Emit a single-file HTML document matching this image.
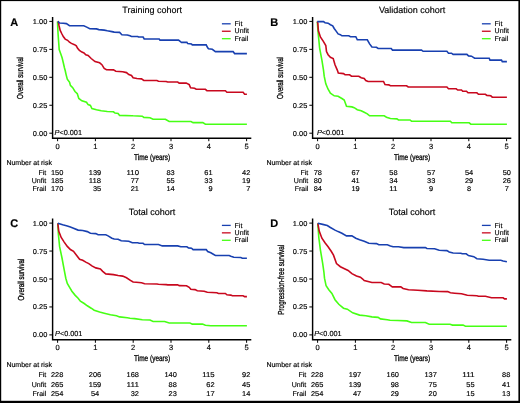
<!DOCTYPE html>
<html><head><meta charset="utf-8"><style>
html,body{margin:0;padding:0;background:#fff;}
svg{display:block;will-change:transform;}
text{font-family:"Liberation Sans", sans-serif;fill:#000;text-rendering:geometricPrecision;}
</style></head><body>
<svg width="520" height="403" viewBox="0 0 520 403">
<rect x="0" y="0" width="520" height="403" fill="#fff"/>
<g>
<text x="10.30" y="25.60" font-size="11" font-weight="bold" stroke="#000" stroke-width="0.15">A</text>
<text x="152.10" y="13.10" font-size="9" text-anchor="middle" stroke="#000" stroke-width="0.15">Training cohort</text>
<g transform="translate(22.60,78.00) rotate(-90)"><text x="0.00" y="0.00" font-size="8.7" text-anchor="middle" textLength="41.80" lengthAdjust="spacingAndGlyphs" stroke="#000" stroke-width="0.3">Overall survival</text></g>
<line x1="49.3" y1="133.20" x2="52.6" y2="133.20" stroke="#000" stroke-width="1"/>
<text x="47.30" y="135.70" font-size="7" text-anchor="end" textLength="14.44" lengthAdjust="spacingAndGlyphs" stroke="#000" stroke-width="0.15">0.00</text>
<line x1="49.3" y1="105.25" x2="52.6" y2="105.25" stroke="#000" stroke-width="1"/>
<text x="47.30" y="107.75" font-size="7" text-anchor="end" textLength="14.44" lengthAdjust="spacingAndGlyphs" stroke="#000" stroke-width="0.15">0.25</text>
<line x1="49.3" y1="77.30" x2="52.6" y2="77.30" stroke="#000" stroke-width="1"/>
<text x="47.30" y="79.80" font-size="7" text-anchor="end" textLength="14.44" lengthAdjust="spacingAndGlyphs" stroke="#000" stroke-width="0.15">0.50</text>
<line x1="49.3" y1="49.35" x2="52.6" y2="49.35" stroke="#000" stroke-width="1"/>
<text x="47.30" y="51.85" font-size="7" text-anchor="end" textLength="14.44" lengthAdjust="spacingAndGlyphs" stroke="#000" stroke-width="0.15">0.75</text>
<line x1="49.3" y1="21.40" x2="52.6" y2="21.40" stroke="#000" stroke-width="1"/>
<text x="47.30" y="23.90" font-size="7" text-anchor="end" textLength="14.44" lengthAdjust="spacingAndGlyphs" stroke="#000" stroke-width="0.15">1.00</text>
<path d="M52.6,16.9 V138.2 H251.3" fill="none" stroke="#000" stroke-width="1.45"/>
<line x1="57.60" y1="138.2" x2="57.60" y2="141.2" stroke="#000" stroke-width="1"/>
<text x="57.60" y="148.80" font-size="7.5" text-anchor="middle" stroke="#000" stroke-width="0.15">0</text>
<line x1="95.40" y1="138.2" x2="95.40" y2="141.2" stroke="#000" stroke-width="1"/>
<text x="95.40" y="148.80" font-size="7.5" text-anchor="middle" stroke="#000" stroke-width="0.15">1</text>
<line x1="133.20" y1="138.2" x2="133.20" y2="141.2" stroke="#000" stroke-width="1"/>
<text x="133.20" y="148.80" font-size="7.5" text-anchor="middle" stroke="#000" stroke-width="0.15">2</text>
<line x1="171.00" y1="138.2" x2="171.00" y2="141.2" stroke="#000" stroke-width="1"/>
<text x="171.00" y="148.80" font-size="7.5" text-anchor="middle" stroke="#000" stroke-width="0.15">3</text>
<line x1="208.80" y1="138.2" x2="208.80" y2="141.2" stroke="#000" stroke-width="1"/>
<text x="208.80" y="148.80" font-size="7.5" text-anchor="middle" stroke="#000" stroke-width="0.15">4</text>
<line x1="246.60" y1="138.2" x2="246.60" y2="141.2" stroke="#000" stroke-width="1"/>
<text x="246.60" y="148.80" font-size="7.5" text-anchor="middle" stroke="#000" stroke-width="0.15">5</text>
<text x="152.10" y="159.80" font-size="8.3" text-anchor="middle" textLength="36.00" lengthAdjust="spacingAndGlyphs" stroke="#000" stroke-width="0.3">Time (years)</text>
<text x="54.60" y="134.80" font-size="7.3" stroke="#000" stroke-width="0.15"><tspan font-style="italic">P</tspan>&lt;0.001</text>
<line x1="221.9" y1="23.80" x2="230.7" y2="23.80" stroke="#1840b0" stroke-width="1.3"/>
<text x="234.60" y="25.90" font-size="7" stroke="#000" stroke-width="0.15">Fit</text>
<line x1="221.9" y1="31.25" x2="230.7" y2="31.25" stroke="#c8081e" stroke-width="1.3"/>
<text x="234.60" y="33.35" font-size="7" stroke="#000" stroke-width="0.15">Unfit</text>
<line x1="221.9" y1="38.70" x2="230.7" y2="38.70" stroke="#46ff14" stroke-width="1.3"/>
<text x="234.60" y="40.80" font-size="7" stroke="#000" stroke-width="0.15">Frail</text>
<text x="6.40" y="165.40" font-size="7" stroke="#000" stroke-width="0.15">Number at risk</text>
<text x="63.39" y="174.70" font-size="7" text-anchor="end" textLength="12.38" lengthAdjust="spacingAndGlyphs" stroke="#000" stroke-width="0.15">150</text>
<text x="63.39" y="183.00" font-size="7" text-anchor="end" textLength="12.38" lengthAdjust="spacingAndGlyphs" stroke="#000" stroke-width="0.15">185</text>
<text x="63.39" y="191.40" font-size="7" text-anchor="end" textLength="12.38" lengthAdjust="spacingAndGlyphs" stroke="#000" stroke-width="0.15">170</text>
<text x="101.19" y="174.70" font-size="7" text-anchor="end" textLength="12.38" lengthAdjust="spacingAndGlyphs" stroke="#000" stroke-width="0.15">139</text>
<text x="101.19" y="183.00" font-size="7" text-anchor="end" textLength="12.38" lengthAdjust="spacingAndGlyphs" stroke="#000" stroke-width="0.15">118</text>
<text x="101.19" y="191.40" font-size="7" text-anchor="end" textLength="8.25" lengthAdjust="spacingAndGlyphs" stroke="#000" stroke-width="0.15">35</text>
<text x="138.99" y="174.70" font-size="7" text-anchor="end" textLength="12.38" lengthAdjust="spacingAndGlyphs" stroke="#000" stroke-width="0.15">110</text>
<text x="138.99" y="183.00" font-size="7" text-anchor="end" textLength="8.25" lengthAdjust="spacingAndGlyphs" stroke="#000" stroke-width="0.15">77</text>
<text x="138.99" y="191.40" font-size="7" text-anchor="end" textLength="8.25" lengthAdjust="spacingAndGlyphs" stroke="#000" stroke-width="0.15">21</text>
<text x="174.73" y="174.70" font-size="7" text-anchor="end" textLength="8.25" lengthAdjust="spacingAndGlyphs" stroke="#000" stroke-width="0.15">83</text>
<text x="174.73" y="183.00" font-size="7" text-anchor="end" textLength="8.25" lengthAdjust="spacingAndGlyphs" stroke="#000" stroke-width="0.15">55</text>
<text x="174.73" y="191.40" font-size="7" text-anchor="end" textLength="8.25" lengthAdjust="spacingAndGlyphs" stroke="#000" stroke-width="0.15">14</text>
<text x="212.53" y="174.70" font-size="7" text-anchor="end" textLength="8.25" lengthAdjust="spacingAndGlyphs" stroke="#000" stroke-width="0.15">61</text>
<text x="212.53" y="183.00" font-size="7" text-anchor="end" textLength="8.25" lengthAdjust="spacingAndGlyphs" stroke="#000" stroke-width="0.15">33</text>
<text x="212.53" y="191.40" font-size="7" text-anchor="end" textLength="4.13" lengthAdjust="spacingAndGlyphs" stroke="#000" stroke-width="0.15">9</text>
<text x="250.33" y="174.70" font-size="7" text-anchor="end" textLength="8.25" lengthAdjust="spacingAndGlyphs" stroke="#000" stroke-width="0.15">42</text>
<text x="250.33" y="183.00" font-size="7" text-anchor="end" textLength="8.25" lengthAdjust="spacingAndGlyphs" stroke="#000" stroke-width="0.15">19</text>
<text x="250.33" y="191.40" font-size="7" text-anchor="end" textLength="4.13" lengthAdjust="spacingAndGlyphs" stroke="#000" stroke-width="0.15">7</text>
<text x="46.21" y="174.70" font-size="7" text-anchor="end" stroke="#000" stroke-width="0.15">Fit</text>
<text x="46.21" y="183.00" font-size="7" text-anchor="end" stroke="#000" stroke-width="0.15">Unfit</text>
<text x="46.21" y="191.40" font-size="7" text-anchor="end" stroke="#000" stroke-width="0.15">Frail</text>
<polyline points="57.5,21.5 58.0,32.9 58.7,42.8 59.2,49.6 60.8,54.0 62.1,57.7 63.3,62.7 64.5,68.0 65.2,70.5 66.1,74.6 67.3,79.2 69.6,82.3 70.4,85.4 72.7,87.7 75.0,91.5 77.3,93.8 78.8,98.5 81.9,100.8 86.5,102.3 88.1,104.6 90.4,105.4 91.9,108.5 96.5,109.7 101.2,110.8 107.3,111.5 113.5,111.8 115.0,113.1 118.1,113.4 119.6,115.4 131.9,115.7 133.1,115.8 142.3,116.2 143.8,117.4 150.0,117.7 153.1,119.2 165.4,119.2 169.2,121.5 191.0,121.5 193.1,122.6 202.8,122.6 205.4,124.2 246.9,124.2" fill="none" stroke="#46ff14" stroke-width="1.6" stroke-linejoin="miter"/>
<polyline points="57.8,21.4 58.3,21.7 59.0,25.4 60.2,30.4 61.7,33.5 63.3,36.6 65.2,39.1 67.6,40.3 69.5,42.2 71.4,43.4 74.5,44.7 76.3,45.9 77.6,48.4 79.4,50.3 81.9,52.1 84.0,52.9 85.8,54.7 88.1,55.5 91.2,58.5 95.0,61.6 99.6,62.8 101.9,64.7 104.2,68.5 106.5,69.8 113.5,69.9 115.8,71.3 122.7,71.7 126.5,72.6 128.8,74.6 131.5,75.5 133.1,77.7 136.9,78.5 141.5,78.9 143.8,80.5 156.9,80.5 158.5,81.2 166.2,81.5 167.7,82.0 177.7,82.0 179.2,83.1 186.2,83.1 189.2,84.6 190.6,87.8 194.6,88.3 196.2,89.3 205.4,89.3 206.9,90.6 225.4,90.8 226.9,92.3 243.1,92.3 244.6,94.2 246.9,94.2" fill="none" stroke="#c8081e" stroke-width="1.6" stroke-linejoin="miter"/>
<polyline points="57.8,21.4 59.6,23.0 63.3,23.2 66.4,23.6 69.5,25.6 83.8,25.8 86.7,27.1 89.8,28.7 96.5,28.9 98.8,29.6 104.2,30.1 107.3,30.8 111.9,31.6 114.2,32.1 119.6,32.4 121.9,34.7 127.3,35.0 130.0,35.8 131.5,36.5 137.7,36.5 138.5,37.0 143.1,37.0 144.2,39.0 159.2,39.0 160.0,40.1 178.5,40.1 180.8,41.9 181.5,42.4 186.9,42.4 187.7,43.6 191.5,43.9 192.3,44.9 206.2,44.9 207.7,47.8 208.5,48.8 212.3,49.3 215.4,51.6 233.1,51.6 234.6,53.6 246.9,53.6" fill="none" stroke="#1840b0" stroke-width="1.6" stroke-linejoin="miter"/>
</g>
<g>
<text x="270.30" y="25.60" font-size="11" font-weight="bold" stroke="#000" stroke-width="0.15">B</text>
<text x="412.10" y="13.10" font-size="9" text-anchor="middle" stroke="#000" stroke-width="0.15">Validation cohort</text>
<g transform="translate(282.60,78.00) rotate(-90)"><text x="0.00" y="0.00" font-size="8.7" text-anchor="middle" textLength="41.80" lengthAdjust="spacingAndGlyphs" stroke="#000" stroke-width="0.3">Overall survival</text></g>
<line x1="309.3" y1="133.20" x2="312.6" y2="133.20" stroke="#000" stroke-width="1"/>
<text x="307.30" y="135.70" font-size="7" text-anchor="end" textLength="14.44" lengthAdjust="spacingAndGlyphs" stroke="#000" stroke-width="0.15">0.00</text>
<line x1="309.3" y1="105.25" x2="312.6" y2="105.25" stroke="#000" stroke-width="1"/>
<text x="307.30" y="107.75" font-size="7" text-anchor="end" textLength="14.44" lengthAdjust="spacingAndGlyphs" stroke="#000" stroke-width="0.15">0.25</text>
<line x1="309.3" y1="77.30" x2="312.6" y2="77.30" stroke="#000" stroke-width="1"/>
<text x="307.30" y="79.80" font-size="7" text-anchor="end" textLength="14.44" lengthAdjust="spacingAndGlyphs" stroke="#000" stroke-width="0.15">0.50</text>
<line x1="309.3" y1="49.35" x2="312.6" y2="49.35" stroke="#000" stroke-width="1"/>
<text x="307.30" y="51.85" font-size="7" text-anchor="end" textLength="14.44" lengthAdjust="spacingAndGlyphs" stroke="#000" stroke-width="0.15">0.75</text>
<line x1="309.3" y1="21.40" x2="312.6" y2="21.40" stroke="#000" stroke-width="1"/>
<text x="307.30" y="23.90" font-size="7" text-anchor="end" textLength="14.44" lengthAdjust="spacingAndGlyphs" stroke="#000" stroke-width="0.15">1.00</text>
<path d="M312.6,16.9 V138.2 H511.3" fill="none" stroke="#000" stroke-width="1.45"/>
<line x1="317.60" y1="138.2" x2="317.60" y2="141.2" stroke="#000" stroke-width="1"/>
<text x="317.60" y="148.80" font-size="7.5" text-anchor="middle" stroke="#000" stroke-width="0.15">0</text>
<line x1="355.40" y1="138.2" x2="355.40" y2="141.2" stroke="#000" stroke-width="1"/>
<text x="355.40" y="148.80" font-size="7.5" text-anchor="middle" stroke="#000" stroke-width="0.15">1</text>
<line x1="393.20" y1="138.2" x2="393.20" y2="141.2" stroke="#000" stroke-width="1"/>
<text x="393.20" y="148.80" font-size="7.5" text-anchor="middle" stroke="#000" stroke-width="0.15">2</text>
<line x1="431.00" y1="138.2" x2="431.00" y2="141.2" stroke="#000" stroke-width="1"/>
<text x="431.00" y="148.80" font-size="7.5" text-anchor="middle" stroke="#000" stroke-width="0.15">3</text>
<line x1="468.80" y1="138.2" x2="468.80" y2="141.2" stroke="#000" stroke-width="1"/>
<text x="468.80" y="148.80" font-size="7.5" text-anchor="middle" stroke="#000" stroke-width="0.15">4</text>
<line x1="506.60" y1="138.2" x2="506.60" y2="141.2" stroke="#000" stroke-width="1"/>
<text x="506.60" y="148.80" font-size="7.5" text-anchor="middle" stroke="#000" stroke-width="0.15">5</text>
<text x="412.10" y="159.80" font-size="8.3" text-anchor="middle" textLength="36.00" lengthAdjust="spacingAndGlyphs" stroke="#000" stroke-width="0.3">Time (years)</text>
<text x="316.90" y="134.50" font-size="7.3" stroke="#000" stroke-width="0.15"><tspan font-style="italic">P</tspan>&lt;0.001</text>
<line x1="481.9" y1="23.80" x2="490.7" y2="23.80" stroke="#1840b0" stroke-width="1.3"/>
<text x="494.60" y="25.90" font-size="7" stroke="#000" stroke-width="0.15">Fit</text>
<line x1="481.9" y1="31.25" x2="490.7" y2="31.25" stroke="#c8081e" stroke-width="1.3"/>
<text x="494.60" y="33.35" font-size="7" stroke="#000" stroke-width="0.15">Unfit</text>
<line x1="481.9" y1="38.70" x2="490.7" y2="38.70" stroke="#46ff14" stroke-width="1.3"/>
<text x="494.60" y="40.80" font-size="7" stroke="#000" stroke-width="0.15">Frail</text>
<text x="266.40" y="165.40" font-size="7" stroke="#000" stroke-width="0.15">Number at risk</text>
<text x="317.80" y="174.70" font-size="7" text-anchor="middle" textLength="8.25" lengthAdjust="spacingAndGlyphs" stroke="#000" stroke-width="0.15">78</text>
<text x="317.80" y="183.00" font-size="7" text-anchor="middle" textLength="8.25" lengthAdjust="spacingAndGlyphs" stroke="#000" stroke-width="0.15">80</text>
<text x="317.80" y="191.40" font-size="7" text-anchor="middle" textLength="8.25" lengthAdjust="spacingAndGlyphs" stroke="#000" stroke-width="0.15">84</text>
<text x="355.60" y="174.70" font-size="7" text-anchor="middle" textLength="8.25" lengthAdjust="spacingAndGlyphs" stroke="#000" stroke-width="0.15">67</text>
<text x="355.60" y="183.00" font-size="7" text-anchor="middle" textLength="8.25" lengthAdjust="spacingAndGlyphs" stroke="#000" stroke-width="0.15">41</text>
<text x="355.60" y="191.40" font-size="7" text-anchor="middle" textLength="8.25" lengthAdjust="spacingAndGlyphs" stroke="#000" stroke-width="0.15">19</text>
<text x="393.40" y="174.70" font-size="7" text-anchor="middle" textLength="8.25" lengthAdjust="spacingAndGlyphs" stroke="#000" stroke-width="0.15">58</text>
<text x="393.40" y="183.00" font-size="7" text-anchor="middle" textLength="8.25" lengthAdjust="spacingAndGlyphs" stroke="#000" stroke-width="0.15">34</text>
<text x="393.40" y="191.40" font-size="7" text-anchor="middle" textLength="8.25" lengthAdjust="spacingAndGlyphs" stroke="#000" stroke-width="0.15">11</text>
<text x="431.20" y="174.70" font-size="7" text-anchor="middle" textLength="8.25" lengthAdjust="spacingAndGlyphs" stroke="#000" stroke-width="0.15">57</text>
<text x="431.20" y="183.00" font-size="7" text-anchor="middle" textLength="8.25" lengthAdjust="spacingAndGlyphs" stroke="#000" stroke-width="0.15">33</text>
<text x="431.20" y="191.40" font-size="7" text-anchor="middle" textLength="4.13" lengthAdjust="spacingAndGlyphs" stroke="#000" stroke-width="0.15">9</text>
<text x="469.00" y="174.70" font-size="7" text-anchor="middle" textLength="8.25" lengthAdjust="spacingAndGlyphs" stroke="#000" stroke-width="0.15">54</text>
<text x="469.00" y="183.00" font-size="7" text-anchor="middle" textLength="8.25" lengthAdjust="spacingAndGlyphs" stroke="#000" stroke-width="0.15">29</text>
<text x="469.00" y="191.40" font-size="7" text-anchor="middle" textLength="4.13" lengthAdjust="spacingAndGlyphs" stroke="#000" stroke-width="0.15">8</text>
<text x="506.80" y="174.70" font-size="7" text-anchor="middle" textLength="8.25" lengthAdjust="spacingAndGlyphs" stroke="#000" stroke-width="0.15">50</text>
<text x="506.80" y="183.00" font-size="7" text-anchor="middle" textLength="8.25" lengthAdjust="spacingAndGlyphs" stroke="#000" stroke-width="0.15">26</text>
<text x="506.80" y="191.40" font-size="7" text-anchor="middle" textLength="4.13" lengthAdjust="spacingAndGlyphs" stroke="#000" stroke-width="0.15">7</text>
<text x="308.27" y="174.70" font-size="7" text-anchor="end" stroke="#000" stroke-width="0.15">Fit</text>
<text x="308.27" y="183.00" font-size="7" text-anchor="end" stroke="#000" stroke-width="0.15">Unfit</text>
<text x="308.27" y="191.40" font-size="7" text-anchor="end" stroke="#000" stroke-width="0.15">Frail</text>
<polyline points="317.3,21.6 318.1,32.4 319.6,47.8 321.9,60.1 323.5,70.1 324.2,76.2 325.8,83.8 328.1,89.2 330.4,93.1 334.2,95.8 338.1,96.2 341.9,98.5 344.2,100.0 346.5,106.2 351.9,106.9 354.2,107.7 357.3,109.7 361.2,110.8 364.2,112.3 367.3,113.8 369.6,115.8 384.2,115.8 386.5,117.2 390.4,118.5 396.9,118.9 398.5,120.0 410.0,120.0 411.5,121.2 450.4,121.2 451.8,122.8 469.2,122.8 470.8,124.2 506.9,124.2" fill="none" stroke="#46ff14" stroke-width="1.6" stroke-linejoin="miter"/>
<polyline points="317.3,21.6 317.8,23.2 318.4,30.8 320.4,37.0 323.5,41.6 325.8,45.5 326.5,51.6 328.1,54.7 330.4,57.3 333.2,58.5 335.0,64.7 337.3,70.1 338.3,73.1 343.5,73.6 345.0,74.6 349.6,74.8 351.5,76.2 358.8,76.2 361.2,77.7 364.2,78.5 365.8,80.5 368.1,81.5 383.5,81.5 385.0,84.6 388.8,84.9 390.4,85.8 406.6,85.8 408.2,87.0 446.9,87.0 448.5,88.8 456.2,88.8 457.7,90.0 461.5,90.0 462.7,91.2 466.5,91.2 468.0,92.8 476.9,92.8 478.5,94.3 485.4,94.3 486.9,95.4 490.8,95.8 492.3,97.2 506.9,97.2" fill="none" stroke="#c8081e" stroke-width="1.6" stroke-linejoin="miter"/>
<polyline points="317.3,21.6 323.5,21.6 325.0,22.7 328.1,23.2 330.4,24.7 332.7,25.8 334.2,28.5 336.5,31.6 338.1,33.9 340.4,34.7 341.9,35.8 348.8,35.8 350.4,36.7 355.8,36.7 357.3,39.8 367.3,39.8 369.6,43.9 371.9,47.0 376.5,47.3 378.1,48.5 391.2,48.5 392.5,50.1 421.5,50.1 423.1,51.3 446.9,51.3 448.5,53.2 451.5,53.2 453.1,54.4 466.9,54.4 468.5,55.9 471.5,56.2 474.6,58.2 489.2,58.2 490.0,60.1 501.5,60.1 502.3,61.6 506.9,61.6" fill="none" stroke="#1840b0" stroke-width="1.6" stroke-linejoin="miter"/>
</g>
<g>
<text x="10.30" y="227.10" font-size="11" font-weight="bold" stroke="#000" stroke-width="0.15">C</text>
<text x="152.10" y="214.90" font-size="9" text-anchor="middle" stroke="#000" stroke-width="0.15">Total cohort</text>
<g transform="translate(23.60,279.60) rotate(-90)"><text x="0.00" y="0.00" font-size="8.7" text-anchor="middle" textLength="41.60" lengthAdjust="spacingAndGlyphs" stroke="#000" stroke-width="0.3">Overall survival</text></g>
<line x1="49.3" y1="334.90" x2="52.6" y2="334.90" stroke="#000" stroke-width="1"/>
<text x="47.30" y="337.40" font-size="7" text-anchor="end" textLength="14.44" lengthAdjust="spacingAndGlyphs" stroke="#000" stroke-width="0.15">0.00</text>
<line x1="49.3" y1="306.95" x2="52.6" y2="306.95" stroke="#000" stroke-width="1"/>
<text x="47.30" y="309.45" font-size="7" text-anchor="end" textLength="14.44" lengthAdjust="spacingAndGlyphs" stroke="#000" stroke-width="0.15">0.25</text>
<line x1="49.3" y1="279.00" x2="52.6" y2="279.00" stroke="#000" stroke-width="1"/>
<text x="47.30" y="281.50" font-size="7" text-anchor="end" textLength="14.44" lengthAdjust="spacingAndGlyphs" stroke="#000" stroke-width="0.15">0.50</text>
<line x1="49.3" y1="251.05" x2="52.6" y2="251.05" stroke="#000" stroke-width="1"/>
<text x="47.30" y="253.55" font-size="7" text-anchor="end" textLength="14.44" lengthAdjust="spacingAndGlyphs" stroke="#000" stroke-width="0.15">0.75</text>
<line x1="49.3" y1="223.10" x2="52.6" y2="223.10" stroke="#000" stroke-width="1"/>
<text x="47.30" y="225.60" font-size="7" text-anchor="end" textLength="14.44" lengthAdjust="spacingAndGlyphs" stroke="#000" stroke-width="0.15">1.00</text>
<path d="M52.6,218.6 V339.8 H251.3" fill="none" stroke="#000" stroke-width="1.45"/>
<line x1="57.60" y1="339.8" x2="57.60" y2="342.8" stroke="#000" stroke-width="1"/>
<text x="57.60" y="350.40" font-size="7.5" text-anchor="middle" stroke="#000" stroke-width="0.15">0</text>
<line x1="95.40" y1="339.8" x2="95.40" y2="342.8" stroke="#000" stroke-width="1"/>
<text x="95.40" y="350.40" font-size="7.5" text-anchor="middle" stroke="#000" stroke-width="0.15">1</text>
<line x1="133.20" y1="339.8" x2="133.20" y2="342.8" stroke="#000" stroke-width="1"/>
<text x="133.20" y="350.40" font-size="7.5" text-anchor="middle" stroke="#000" stroke-width="0.15">2</text>
<line x1="171.00" y1="339.8" x2="171.00" y2="342.8" stroke="#000" stroke-width="1"/>
<text x="171.00" y="350.40" font-size="7.5" text-anchor="middle" stroke="#000" stroke-width="0.15">3</text>
<line x1="208.80" y1="339.8" x2="208.80" y2="342.8" stroke="#000" stroke-width="1"/>
<text x="208.80" y="350.40" font-size="7.5" text-anchor="middle" stroke="#000" stroke-width="0.15">4</text>
<line x1="246.60" y1="339.8" x2="246.60" y2="342.8" stroke="#000" stroke-width="1"/>
<text x="246.60" y="350.40" font-size="7.5" text-anchor="middle" stroke="#000" stroke-width="0.15">5</text>
<text x="152.10" y="360.60" font-size="8.3" text-anchor="middle" textLength="36.00" lengthAdjust="spacingAndGlyphs" stroke="#000" stroke-width="0.3">Time (years)</text>
<text x="55.00" y="336.00" font-size="7.3" stroke="#000" stroke-width="0.15"><tspan font-style="italic">P</tspan>&lt;0.001</text>
<line x1="221.9" y1="225.40" x2="230.7" y2="225.40" stroke="#1840b0" stroke-width="1.3"/>
<text x="234.60" y="227.50" font-size="7" stroke="#000" stroke-width="0.15">Fit</text>
<line x1="221.9" y1="232.85" x2="230.7" y2="232.85" stroke="#c8081e" stroke-width="1.3"/>
<text x="234.60" y="234.95" font-size="7" stroke="#000" stroke-width="0.15">Unfit</text>
<line x1="221.9" y1="240.30" x2="230.7" y2="240.30" stroke="#46ff14" stroke-width="1.3"/>
<text x="234.60" y="242.40" font-size="7" stroke="#000" stroke-width="0.15">Frail</text>
<text x="6.40" y="366.90" font-size="7" stroke="#000" stroke-width="0.15">Number at risk</text>
<text x="63.39" y="377.40" font-size="7" text-anchor="end" textLength="12.38" lengthAdjust="spacingAndGlyphs" stroke="#000" stroke-width="0.15">228</text>
<text x="63.39" y="386.70" font-size="7" text-anchor="end" textLength="12.38" lengthAdjust="spacingAndGlyphs" stroke="#000" stroke-width="0.15">265</text>
<text x="63.39" y="396.10" font-size="7" text-anchor="end" textLength="12.38" lengthAdjust="spacingAndGlyphs" stroke="#000" stroke-width="0.15">254</text>
<text x="101.19" y="377.40" font-size="7" text-anchor="end" textLength="12.38" lengthAdjust="spacingAndGlyphs" stroke="#000" stroke-width="0.15">206</text>
<text x="101.19" y="386.70" font-size="7" text-anchor="end" textLength="12.38" lengthAdjust="spacingAndGlyphs" stroke="#000" stroke-width="0.15">159</text>
<text x="95.00" y="396.10" font-size="7" text-anchor="middle" textLength="8.25" lengthAdjust="spacingAndGlyphs" stroke="#000" stroke-width="0.15">54</text>
<text x="138.99" y="377.40" font-size="7" text-anchor="end" textLength="12.38" lengthAdjust="spacingAndGlyphs" stroke="#000" stroke-width="0.15">168</text>
<text x="138.99" y="386.70" font-size="7" text-anchor="end" textLength="12.38" lengthAdjust="spacingAndGlyphs" stroke="#000" stroke-width="0.15">111</text>
<text x="138.99" y="396.10" font-size="7" text-anchor="end" textLength="8.25" lengthAdjust="spacingAndGlyphs" stroke="#000" stroke-width="0.15">32</text>
<text x="176.79" y="377.40" font-size="7" text-anchor="end" textLength="12.38" lengthAdjust="spacingAndGlyphs" stroke="#000" stroke-width="0.15">140</text>
<text x="176.79" y="386.70" font-size="7" text-anchor="end" textLength="8.25" lengthAdjust="spacingAndGlyphs" stroke="#000" stroke-width="0.15">88</text>
<text x="176.79" y="396.10" font-size="7" text-anchor="end" textLength="8.25" lengthAdjust="spacingAndGlyphs" stroke="#000" stroke-width="0.15">23</text>
<text x="214.59" y="377.40" font-size="7" text-anchor="end" textLength="12.38" lengthAdjust="spacingAndGlyphs" stroke="#000" stroke-width="0.15">115</text>
<text x="214.59" y="386.70" font-size="7" text-anchor="end" textLength="8.25" lengthAdjust="spacingAndGlyphs" stroke="#000" stroke-width="0.15">62</text>
<text x="214.59" y="396.10" font-size="7" text-anchor="end" textLength="8.25" lengthAdjust="spacingAndGlyphs" stroke="#000" stroke-width="0.15">17</text>
<text x="250.33" y="377.40" font-size="7" text-anchor="end" textLength="8.25" lengthAdjust="spacingAndGlyphs" stroke="#000" stroke-width="0.15">92</text>
<text x="250.33" y="386.70" font-size="7" text-anchor="end" textLength="8.25" lengthAdjust="spacingAndGlyphs" stroke="#000" stroke-width="0.15">45</text>
<text x="250.33" y="396.10" font-size="7" text-anchor="end" textLength="8.25" lengthAdjust="spacingAndGlyphs" stroke="#000" stroke-width="0.15">14</text>
<text x="46.21" y="377.40" font-size="7" text-anchor="end" stroke="#000" stroke-width="0.15">Fit</text>
<text x="46.21" y="386.70" font-size="7" text-anchor="end" stroke="#000" stroke-width="0.15">Unfit</text>
<text x="46.21" y="396.10" font-size="7" text-anchor="end" stroke="#000" stroke-width="0.15">Frail</text>
<polyline points="57.8,223.4 58.4,234.4 59.6,246.7 61.9,257.5 64.2,269.8 65.8,278.2 67.3,283.5 69.6,287.4 71.9,291.2 75.0,295.1 78.1,298.2 80.4,301.2 84.2,303.5 87.3,305.8 91.2,308.2 94.2,310.2 99.6,312.0 104.2,313.2 110.4,314.8 116.5,315.8 119.6,316.9 127.3,317.8 130.0,318.2 134.6,318.6 142.3,319.7 150.0,320.0 153.1,321.5 164.6,321.5 169.2,323.0 190.0,323.0 192.3,324.1 202.5,324.1 205.4,325.3 210.8,325.8 246.9,325.8" fill="none" stroke="#46ff14" stroke-width="1.6" stroke-linejoin="miter"/>
<polyline points="57.8,223.4 58.8,231.3 61.2,237.5 64.2,242.1 67.3,246.4 70.4,249.5 73.5,251.3 76.5,255.2 79.6,259.3 82.7,260.2 85.8,262.1 88.8,263.6 91.9,265.9 95.8,267.9 100.4,269.0 102.7,271.3 105.8,273.9 113.5,274.6 118.1,275.5 122.7,276.1 126.5,277.8 130.4,280.3 133.1,282.0 136.2,282.3 141.5,282.8 144.6,283.7 156.9,284.0 158.5,284.3 166.2,284.6 167.7,284.9 177.7,284.9 179.2,285.6 186.5,285.7 189.2,287.3 190.8,289.2 195.0,289.6 197.3,290.8 204.2,291.2 207.3,292.3 216.9,292.8 218.5,293.5 225.4,293.5 226.9,294.8 230.8,295.1 232.3,295.8 243.1,295.8 244.6,296.6 246.9,296.6" fill="none" stroke="#c8081e" stroke-width="1.6" stroke-linejoin="miter"/>
<polyline points="57.8,223.3 62.7,224.8 67.3,225.9 70.4,227.0 73.5,228.2 78.1,230.1 82.7,230.5 87.3,231.6 90.4,233.2 95.8,233.6 98.1,234.7 105.8,234.8 108.1,235.9 111.9,238.2 114.2,239.0 118.1,239.3 121.2,240.8 128.8,241.3 132.3,242.8 137.7,242.8 139.2,243.3 143.1,243.3 144.6,244.5 158.5,244.5 162.3,245.9 177.7,245.9 180.8,246.8 186.9,246.8 188.5,247.9 191.5,248.2 193.1,249.6 206.2,249.6 207.7,251.6 210.8,252.8 215.4,255.5 229.2,255.5 230.8,256.2 233.8,257.2 240.8,257.5 242.3,258.2 246.9,258.2" fill="none" stroke="#1840b0" stroke-width="1.6" stroke-linejoin="miter"/>
</g>
<g>
<text x="270.30" y="227.10" font-size="11" font-weight="bold" stroke="#000" stroke-width="0.15">D</text>
<text x="412.10" y="214.90" font-size="9" text-anchor="middle" stroke="#000" stroke-width="0.15">Total cohort</text>
<g transform="translate(284.30,279.80) rotate(-90)"><text x="0.00" y="0.00" font-size="8.7" text-anchor="middle" textLength="69.80" lengthAdjust="spacingAndGlyphs" stroke="#000" stroke-width="0.3">Progression-free survival</text></g>
<line x1="309.3" y1="334.90" x2="312.6" y2="334.90" stroke="#000" stroke-width="1"/>
<text x="307.30" y="337.40" font-size="7" text-anchor="end" textLength="14.44" lengthAdjust="spacingAndGlyphs" stroke="#000" stroke-width="0.15">0.00</text>
<line x1="309.3" y1="306.95" x2="312.6" y2="306.95" stroke="#000" stroke-width="1"/>
<text x="307.30" y="309.45" font-size="7" text-anchor="end" textLength="14.44" lengthAdjust="spacingAndGlyphs" stroke="#000" stroke-width="0.15">0.25</text>
<line x1="309.3" y1="279.00" x2="312.6" y2="279.00" stroke="#000" stroke-width="1"/>
<text x="307.30" y="281.50" font-size="7" text-anchor="end" textLength="14.44" lengthAdjust="spacingAndGlyphs" stroke="#000" stroke-width="0.15">0.50</text>
<line x1="309.3" y1="251.05" x2="312.6" y2="251.05" stroke="#000" stroke-width="1"/>
<text x="307.30" y="253.55" font-size="7" text-anchor="end" textLength="14.44" lengthAdjust="spacingAndGlyphs" stroke="#000" stroke-width="0.15">0.75</text>
<line x1="309.3" y1="223.10" x2="312.6" y2="223.10" stroke="#000" stroke-width="1"/>
<text x="307.30" y="225.60" font-size="7" text-anchor="end" textLength="14.44" lengthAdjust="spacingAndGlyphs" stroke="#000" stroke-width="0.15">1.00</text>
<path d="M312.6,218.6 V339.8 H511.3" fill="none" stroke="#000" stroke-width="1.45"/>
<line x1="317.60" y1="339.8" x2="317.60" y2="342.8" stroke="#000" stroke-width="1"/>
<text x="317.60" y="350.40" font-size="7.5" text-anchor="middle" stroke="#000" stroke-width="0.15">0</text>
<line x1="355.40" y1="339.8" x2="355.40" y2="342.8" stroke="#000" stroke-width="1"/>
<text x="355.40" y="350.40" font-size="7.5" text-anchor="middle" stroke="#000" stroke-width="0.15">1</text>
<line x1="393.20" y1="339.8" x2="393.20" y2="342.8" stroke="#000" stroke-width="1"/>
<text x="393.20" y="350.40" font-size="7.5" text-anchor="middle" stroke="#000" stroke-width="0.15">2</text>
<line x1="431.00" y1="339.8" x2="431.00" y2="342.8" stroke="#000" stroke-width="1"/>
<text x="431.00" y="350.40" font-size="7.5" text-anchor="middle" stroke="#000" stroke-width="0.15">3</text>
<line x1="468.80" y1="339.8" x2="468.80" y2="342.8" stroke="#000" stroke-width="1"/>
<text x="468.80" y="350.40" font-size="7.5" text-anchor="middle" stroke="#000" stroke-width="0.15">4</text>
<line x1="506.60" y1="339.8" x2="506.60" y2="342.8" stroke="#000" stroke-width="1"/>
<text x="506.60" y="350.40" font-size="7.5" text-anchor="middle" stroke="#000" stroke-width="0.15">5</text>
<text x="412.10" y="360.60" font-size="8.3" text-anchor="middle" textLength="36.00" lengthAdjust="spacingAndGlyphs" stroke="#000" stroke-width="0.3">Time (years)</text>
<text x="314.20" y="336.00" font-size="7.3" stroke="#000" stroke-width="0.15"><tspan font-style="italic">P</tspan>&lt;0.001</text>
<line x1="481.9" y1="225.40" x2="490.7" y2="225.40" stroke="#1840b0" stroke-width="1.3"/>
<text x="494.60" y="227.50" font-size="7" stroke="#000" stroke-width="0.15">Fit</text>
<line x1="481.9" y1="232.85" x2="490.7" y2="232.85" stroke="#c8081e" stroke-width="1.3"/>
<text x="494.60" y="234.95" font-size="7" stroke="#000" stroke-width="0.15">Unfit</text>
<line x1="481.9" y1="240.30" x2="490.7" y2="240.30" stroke="#46ff14" stroke-width="1.3"/>
<text x="494.60" y="242.40" font-size="7" stroke="#000" stroke-width="0.15">Frail</text>
<text x="266.40" y="366.90" font-size="7" stroke="#000" stroke-width="0.15">Number at risk</text>
<text x="323.39" y="377.40" font-size="7" text-anchor="end" textLength="12.38" lengthAdjust="spacingAndGlyphs" stroke="#000" stroke-width="0.15">228</text>
<text x="323.39" y="386.70" font-size="7" text-anchor="end" textLength="12.38" lengthAdjust="spacingAndGlyphs" stroke="#000" stroke-width="0.15">265</text>
<text x="323.39" y="396.10" font-size="7" text-anchor="end" textLength="12.38" lengthAdjust="spacingAndGlyphs" stroke="#000" stroke-width="0.15">254</text>
<text x="361.19" y="377.40" font-size="7" text-anchor="end" textLength="12.38" lengthAdjust="spacingAndGlyphs" stroke="#000" stroke-width="0.15">197</text>
<text x="361.19" y="386.70" font-size="7" text-anchor="end" textLength="12.38" lengthAdjust="spacingAndGlyphs" stroke="#000" stroke-width="0.15">139</text>
<text x="361.19" y="396.10" font-size="7" text-anchor="end" textLength="8.25" lengthAdjust="spacingAndGlyphs" stroke="#000" stroke-width="0.15">47</text>
<text x="398.99" y="377.40" font-size="7" text-anchor="end" textLength="12.38" lengthAdjust="spacingAndGlyphs" stroke="#000" stroke-width="0.15">160</text>
<text x="398.99" y="386.70" font-size="7" text-anchor="end" textLength="8.25" lengthAdjust="spacingAndGlyphs" stroke="#000" stroke-width="0.15">98</text>
<text x="398.99" y="396.10" font-size="7" text-anchor="end" textLength="8.25" lengthAdjust="spacingAndGlyphs" stroke="#000" stroke-width="0.15">29</text>
<text x="436.79" y="377.40" font-size="7" text-anchor="end" textLength="12.38" lengthAdjust="spacingAndGlyphs" stroke="#000" stroke-width="0.15">137</text>
<text x="436.79" y="386.70" font-size="7" text-anchor="end" textLength="8.25" lengthAdjust="spacingAndGlyphs" stroke="#000" stroke-width="0.15">75</text>
<text x="436.79" y="396.10" font-size="7" text-anchor="end" textLength="8.25" lengthAdjust="spacingAndGlyphs" stroke="#000" stroke-width="0.15">20</text>
<text x="474.59" y="377.40" font-size="7" text-anchor="end" textLength="12.38" lengthAdjust="spacingAndGlyphs" stroke="#000" stroke-width="0.15">111</text>
<text x="474.59" y="386.70" font-size="7" text-anchor="end" textLength="8.25" lengthAdjust="spacingAndGlyphs" stroke="#000" stroke-width="0.15">55</text>
<text x="474.59" y="396.10" font-size="7" text-anchor="end" textLength="8.25" lengthAdjust="spacingAndGlyphs" stroke="#000" stroke-width="0.15">15</text>
<text x="510.33" y="377.40" font-size="7" text-anchor="end" textLength="8.25" lengthAdjust="spacingAndGlyphs" stroke="#000" stroke-width="0.15">88</text>
<text x="510.33" y="386.70" font-size="7" text-anchor="end" textLength="8.25" lengthAdjust="spacingAndGlyphs" stroke="#000" stroke-width="0.15">41</text>
<text x="510.33" y="396.10" font-size="7" text-anchor="end" textLength="8.25" lengthAdjust="spacingAndGlyphs" stroke="#000" stroke-width="0.15">13</text>
<text x="306.21" y="377.40" font-size="7" text-anchor="end" stroke="#000" stroke-width="0.15">Fit</text>
<text x="306.21" y="386.70" font-size="7" text-anchor="end" stroke="#000" stroke-width="0.15">Unfit</text>
<text x="306.21" y="396.10" font-size="7" text-anchor="end" stroke="#000" stroke-width="0.15">Frail</text>
<polyline points="317.8,223.4 318.8,237.5 320.4,249.8 322.7,263.6 323.9,272.0 324.5,278.2 326.1,285.8 328.8,289.7 331.9,293.5 335.0,299.7 338.8,304.3 343.5,308.2 347.3,309.2 352.7,312.8 359.6,315.1 365.8,315.8 371.9,316.9 378.1,317.4 380.4,318.9 387.3,319.7 390.0,320.3 397.7,320.5 406.9,320.9 411.5,322.5 425.4,322.5 429.2,324.3 450.0,324.3 452.5,325.1 463.1,325.1 465.4,326.2 506.9,326.2" fill="none" stroke="#46ff14" stroke-width="1.6" stroke-linejoin="miter"/>
<polyline points="317.8,223.4 319.3,231.3 321.9,238.2 325.0,242.8 328.1,246.7 331.2,251.3 333.5,255.2 336.5,263.6 340.4,266.7 345.0,269.0 348.1,270.5 351.9,273.6 356.5,275.9 360.4,277.2 362.7,279.0 364.2,280.5 368.1,281.5 371.9,282.5 381.2,282.5 384.2,284.0 388.8,284.3 391.9,286.6 392.3,286.9 400.8,286.9 403.1,288.5 408.5,289.7 417.7,290.2 426.9,290.9 439.2,291.5 447.7,291.6 450.4,292.8 454.6,293.2 461.5,293.8 467.3,295.3 476.9,295.8 478.5,296.3 485.4,296.3 491.5,297.8 503.1,297.8 504.6,298.9 506.9,298.9" fill="none" stroke="#c8081e" stroke-width="1.6" stroke-linejoin="miter"/>
<polyline points="317.8,223.3 322.7,224.4 327.3,225.5 330.4,227.5 335.0,230.1 338.1,231.6 341.9,233.2 346.5,235.9 351.9,235.9 355.8,238.2 359.6,239.8 364.2,241.3 368.8,243.3 376.5,243.6 378.8,244.7 387.3,244.7 390.4,245.9 393.1,246.7 398.5,246.7 403.8,247.6 425.4,247.6 426.9,248.5 434.6,248.8 439.2,250.2 446.9,250.6 449.2,251.9 453.1,253.0 460.8,253.2 462.3,253.8 466.2,253.8 468.5,255.6 473.8,256.7 476.9,258.7 483.1,259.3 489.2,260.2 500.8,260.2 503.1,261.0 506.9,261.8" fill="none" stroke="#1840b0" stroke-width="1.6" stroke-linejoin="miter"/>
</g>
<rect x="0" y="0" width="520" height="1.1" fill="#000"/>
<rect x="0" y="0" width="1.2" height="403" fill="#000"/>
<rect x="518.4" y="0" width="1.6" height="403" fill="#000"/>
<rect x="0" y="400.8" width="520" height="2.2" fill="#000"/>
</svg>
</body></html>
